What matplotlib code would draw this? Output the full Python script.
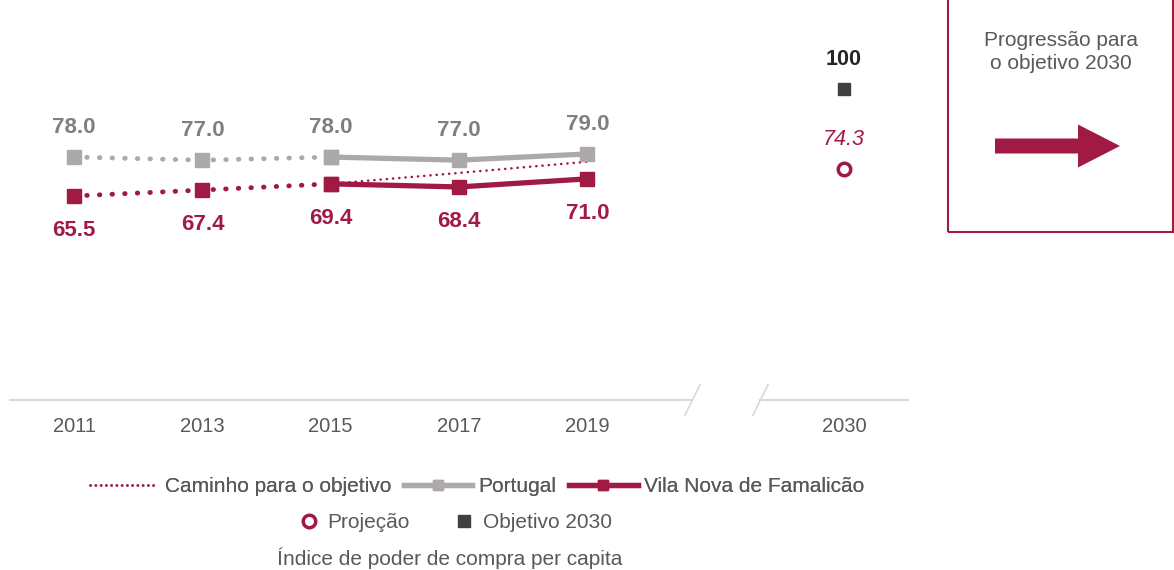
import matplotlib.pyplot as plt
from matplotlib.patches import Rectangle, FancyArrow
from matplotlib.lines import Line2D

plt.rcParams["font.family"] = ["Liberation Sans", "DejaVu Sans"]

# data
years = ["2011", "2013", "2015", "2017", "2019", "2030"]
xpos = [0, 1, 2, 3, 4, 6]
portugal = [78.0, 77.0, 78.0, 77.0, 79.0]
famalicao = [65.5, 67.4, 69.4, 68.4, 71.0]
caminho = [69.4, 72.9, 76.5]  # trajectory 2015-2019
projecao_2030 = 74.3
objetivo_2030 = 100

CRIMSON = "#A01A44"
GREY = "#ADA9A9"
GREY_TXT = "#7F7F7F"
DARK = "#404040"
TICK = "#595959"

fig = plt.figure(figsize=(11.74, 5.70), dpi=100)
ax = fig.add_axes([10 / 1174, 170 / 570, 898 / 1174, 380 / 570])
ax.set_xlim(-0.5, 6.5)
ax.set_ylim(0, 122)
for s in ax.spines.values():
    s.set_visible(False)
ax.set_yticks([])
ax.set_xticks(xpos)
ax.set_xticklabels(years, color=TICK, fontsize=14.5)
ax.tick_params(axis="x", length=0, pad=12)

# broken baseline
ax.axhline(0, xmin=0, xmax=(4.82 + 0.5) / 7, color="#D9D9D9", lw=1.5, clip_on=False)
ax.axhline(0, xmin=(5.35 + 0.5) / 7, xmax=1, color="#D9D9D9", lw=1.5, clip_on=False)
for bx in (4.82, 5.35):
    ax.plot([bx - 0.06, bx + 0.06], [-5, 5], color="#D9D9D9", lw=1.2, clip_on=False)

# dotted history 2011-2015
ax.plot(xpos[:3], portugal[:3], color=GREY, lw=3.5, ls=(0, (0.1, 2.5)),
        dash_capstyle="round", marker="s", ms=10, zorder=3)
ax.plot(xpos[:3], famalicao[:3], color=CRIMSON, lw=3.5, ls=(0, (0.1, 2.5)),
        dash_capstyle="round", marker="s", ms=10, zorder=3)

# trajectory
ax.plot(xpos[2:5], caminho, color=CRIMSON, lw=1.8, ls=(0, (0.1, 2.4)),
        dash_capstyle="round", zorder=2)

# solid 2015-2019
ax.plot(xpos[2:5], portugal[2:], color=GREY, lw=3.8, marker="s", ms=10, zorder=3)
ax.plot(xpos[2:5], famalicao[2:], color=CRIMSON, lw=3.8, marker="s", ms=10, zorder=4)

# 2030
ax.plot([6], [objetivo_2030], ls="none", marker="s", ms=9, color=DARK)
ax.plot([6], [projecao_2030], ls="none", marker="o", ms=9, mfc="white",
        mec=CRIMSON, mew=2.5)

for x, v in zip(xpos, portugal):
    ax.annotate(f"{v:.1f}", (x, v), xytext=(0, 21), textcoords="offset points",
                ha="center", va="center", fontsize=16, fontweight="bold", color=GREY_TXT)
for x, v in zip(xpos, famalicao):
    ax.annotate(f"{v:.1f}", (x, v), xytext=(0, -25), textcoords="offset points",
                ha="center", va="center", fontsize=16, fontweight="bold", color=CRIMSON)
ax.annotate(f"{objetivo_2030}", (6, objetivo_2030), xytext=(0, 21), textcoords="offset points",
            ha="center", va="center", fontsize=15.5, fontweight="bold", color="#262626")
ax.annotate(f"{projecao_2030}", (6, projecao_2030), xytext=(0, 21), textcoords="offset points",
            ha="center", va="center", fontsize=15.5, style="italic", color=CRIMSON)

# right box
fig.patches.append(Rectangle((948 / 1174, (570 - 232) / 570), 225 / 1174, 0.6,
                             transform=fig.transFigure, fill=False, ec=CRIMSON, lw=1.5))
fig.text(1061 / 1174, 1 - 52 / 570, "Progressão para\no objetivo 2030", ha="center",
         va="center", fontsize=15, color=TICK, linespacing=1.25)
fig.patches.append(FancyArrow(9.95, 4.24, 0.83, 0, width=0.15, head_width=0.43,
                              head_length=0.42, length_includes_head=False,
                              transform=fig.dpi_scale_trans, color=CRIMSON, lw=0))

# legend
h1 = [
    Line2D([], [], color=CRIMSON, lw=1.8, ls=(0, (0.1, 2.0)), dash_capstyle="round"),
    Line2D([], [], color=GREY, lw=3.8, marker="s", ms=7),
    Line2D([], [], color=CRIMSON, lw=3.8, marker="s", ms=7),
]
leg1 = fig.legend(h1, ["Caminho para o objetivo", "Portugal", "Vila Nova de Famalicão"],
                  loc="center", bbox_to_anchor=(477 / 1174, 1 - 487 / 570), ncol=3,
                  frameon=False, handlelength=3.3, handletextpad=0.3, columnspacing=0.6,
                  prop={"size": 15})
for t in leg1.get_texts():
    t.set_color(TICK)
h2 = [
    Line2D([], [], ls="none", marker="o", ms=9, mfc="white", mec=CRIMSON, mew=2.5),
    Line2D([], [], ls="none", marker="s", ms=9, color=DARK),
]
leg2 = fig.legend(h2, ["Projeção", "Objetivo 2030"], loc="center",
                  bbox_to_anchor=(456 / 1174, 1 - 523 / 570), ncol=2, frameon=False,
                  handlelength=0.8, handletextpad=0.5, columnspacing=2.2,
                  prop={"size": 15})
for t in leg2.get_texts():
    t.set_color(TICK)
fig.add_artist(leg1)

fig.text(450 / 1174, 1 - 558 / 570, "Índice de poder de compra per capita", ha="center",
         va="center", fontsize=15, color=TICK)

fig.savefig("out.png", dpi=100)
